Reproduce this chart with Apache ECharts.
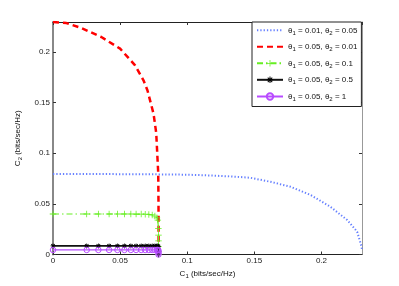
<!DOCTYPE html>
<html>
<head>
<meta charset="utf-8">
<script src="https://cdn.jsdelivr.net/npm/echarts@6/dist/echarts.min.js"></script>
<style>html,body{margin:0;padding:0;background:#fff}#c{width:399px;height:286px}</style>
</head>
<body>
<div id="c"></div>
<script>
// ---- data ----
var legendNames = [
  'θ1 = 0.01, θ2 = 0.05',
  'θ1 = 0.05, θ2 = 0.01',
  'θ1 = 0.05, θ2 = 0.1',
  'θ1 = 0.05, θ2 = 0.5',
  'θ1 = 0.05, θ2 = 1'
];
var xTicks = [0, 0.05, 0.1, 0.15, 0.2];
var yTicks = [0, 0.05, 0.1, 0.15, 0.2];

var blueX = [0, 0.02, 0.04, 0.06, 0.08, 0.1, 0.12, 0.135, 0.147, 0.162, 0.177, 0.192, 0.2067, 0.2192, 0.2266, 0.2299, 0.2302];
var blueY = [0.0794, 0.0794, 0.0794, 0.0793, 0.0791, 0.0788, 0.0779, 0.0769, 0.0758, 0.0718, 0.0669, 0.0587, 0.0471, 0.034, 0.0225, 0.0077, 0.004];

var redX = [0, 0.01, 0.021, 0.036, 0.05, 0.061, 0.0674, 0.0704, 0.0749, 0.0769, 0.0778, 0.0784, 0.0786, 0.0787];
var redY = [0.2296, 0.2285, 0.2237, 0.2148, 0.2033, 0.187, 0.172, 0.162, 0.139, 0.12, 0.096, 0.08, 0.05, 0];

var greenX = [0, 0.0251, 0.0338, 0.0418, 0.048, 0.0532, 0.058, 0.0619, 0.0657, 0.0687, 0.0714, 0.0739, 0.0759, 0.0774, 0.0781, 0.0785, 0.0786, 0.0786, 0.0786, 0.0786, 0.0786];
var greenY = [0.04, 0.04, 0.04, 0.04, 0.04, 0.04, 0.04, 0.0399, 0.0399, 0.0398, 0.0396, 0.0391, 0.038, 0.0362, 0.034, 0.0258, 0.0192, 0.0135, 0.008, 0.003, 0];

var blackX = [0, 0.0251, 0.0338, 0.0418, 0.048, 0.0532, 0.058, 0.0619, 0.0657, 0.0687, 0.0714, 0.0739, 0.0759, 0.0774, 0.0781, 0.0785, 0.0786, 0.0786, 0.0786];
var blackY = [0.0085, 0.0085, 0.0085, 0.0085, 0.0085, 0.0085, 0.0085, 0.0085, 0.0085, 0.0085, 0.0085, 0.0085, 0.0085, 0.0085, 0.0084, 0.0078, 0.006, 0.003, 0];

var magX = [0, 0.0251, 0.0338, 0.0418, 0.048, 0.0532, 0.058, 0.0619, 0.0657, 0.0687, 0.0714, 0.0739, 0.0759, 0.0774, 0.0781, 0.0785, 0.0786, 0.0786, 0.0786];
var magY = [0.0045, 0.0045, 0.0045, 0.0045, 0.0045, 0.0045, 0.0045, 0.0045, 0.0045, 0.0045, 0.0045, 0.0045, 0.0045, 0.0045, 0.0045, 0.0042, 0.003, 0.0015, 0];

function pairs(xs, ys) { return xs.map(function (x, i) { return [x, ys[i]]; }); }

var FONT = '"Liberation Sans", Arial, Helvetica, sans-serif';
var rich = {
  n: { fontSize: 8, lineHeight: 12, fontFamily: FONT, color: '#111' },
  s: { fontSize: 6, lineHeight: 6, verticalAlign: 'bottom', fontFamily: FONT, color: '#111' }
};
function toRich(str) {
  var out = '', buf = '';
  for (var i = 0; i < str.length; i++) {
    var ch = str[i];
    buf += ch;
    if ((ch === 'θ' || ch === 'C') && /\d/.test(str[i + 1] || '')) {
      out += '{n|' + buf + '}{s|' + str[i + 1] + '}';
      buf = '';
      i++;
    }
  }
  if (buf) out += '{n|' + buf + '}';
  return out;
}

var plusPath = 'path://M-0.12,-1L0.12,-1L0.12,-0.12L1,-0.12L1,0.12L0.12,0.12L0.12,1L-0.12,1L-0.12,0.12L-1,0.12L-1,-0.12L-0.12,-0.12Z';
var starPath = 'path://M-0.15,-1L0.15,-1L0.15,-0.15L1,-0.15L1,0.15L0.15,0.15L0.15,1L-0.15,1L-0.15,0.15L-1,0.15L-1,-0.15L-0.15,-0.15Z' +
  'M-0.6,-0.81L0.81,0.6L0.6,0.81L-0.81,-0.6Z' +
  'M0.81,-0.6L-0.6,0.81L-0.81,0.6L0.6,-0.81Z';

var XMAX = 0.2302, YMAX = 0.2296;

function baseX(pos, showLabel, lineColor) {
  return {
    type: 'value', position: pos, min: 0, max: XMAX, interval: 0.05,
    axisLine: { show: true, onZero: false, lineStyle: { color: lineColor, width: 1 } },
    axisTick: { show: true, inside: true, length: 3, lineStyle: { color: '#333' } },
    axisLabel: {
      show: showLabel, fontSize: 8, fontFamily: FONT, color: '#222', margin: 2,
      showMaxLabel: false,
      formatter: function (v) { return xTicks.indexOf(+v.toFixed(4)) >= 0 ? String(+v.toFixed(4)) : ''; }
    },
    splitLine: { show: false }
  };
}
function baseY(pos, showLabel, lineColor, w) {
  return {
    type: 'value', position: pos, min: 0, max: YMAX, interval: 0.05,
    axisLine: { show: true, onZero: false, lineStyle: { color: lineColor, width: w } },
    axisTick: { show: true, inside: true, length: 3, lineStyle: { color: '#333' } },
    axisLabel: {
      show: showLabel, fontSize: 8, fontFamily: FONT, color: '#222', margin: 3,
      showMaxLabel: false,
      formatter: function (v) { return yTicks.indexOf(+v.toFixed(4)) >= 0 ? String(+v.toFixed(4)) : ''; }
    },
    splitLine: { show: false }
  };
}

var xB = baseX('bottom', true, '#222');
xB.name = toRich('C1 (bits/sec/Hz)');
xB.nameLocation = 'middle';
xB.nameGap = 4.5;
xB.nameTextStyle = { rich: rich };
var xT = baseX('top', false, '#222');
var yL = baseY('left', true, '#888', 2);
yL.name = toRich('C2 (bits/sec/Hz)');
yL.nameLocation = 'middle';
yL.nameGap = 16.5;
yL.nameTextStyle = { rich: rich };
var yR = baseY('right', false, '#999', 1);

var legendData = legendNames.map(function (n, i) {
  return i < 2 ? { name: n, itemStyle: { opacity: 0 } } : { name: n };
});

var chart = echarts.init(document.getElementById('c'), null, { renderer: 'canvas' });
chart.setOption({
  animation: false,
  backgroundColor: '#fff',
  grid: { left: 53, right: 37, top: 22, bottom: 31.5, containLabel: false },
  xAxis: [xB, xT],
  yAxis: [yL, yR],
  legend: {
    orient: 'vertical', left: 252, top: 22,
    padding: [4.3, 4, 4, 4], itemGap: 6.5, itemWidth: 26, itemHeight: 8, itemTextGap: 2,
    borderColor: '#222', borderWidth: 1, backgroundColor: '#fff',
    data: legendData,
    formatter: function (name) { return toRich(name); },
    textStyle: { rich: rich }
  },
  series: [
    {
      name: legendNames[0], type: 'line', data: pairs(blueX, blueY), symbol: 'none', smooth: false,
      color: '#6680ff',
      itemStyle: { color: 'rgba(0,0,0,0)', borderWidth: 0 },
      lineStyle: { color: '#6680ff', width: 2, type: [1.3, 2] }
    },
    {
      name: legendNames[1], type: 'line', data: pairs(redX, redY), symbol: 'none',
      color: '#ff0000',
      itemStyle: { color: 'rgba(0,0,0,0)', borderWidth: 0 },
      lineStyle: { color: '#ff0000', width: 2.5, type: [6, 4] }
    },
    {
      name: legendNames[2], type: 'line', data: pairs(greenX, greenY), symbol: plusPath, symbolSize: 6.5,
      showSymbol: true, color: '#66ee22',
      itemStyle: { color: '#66ee22' },
      lineStyle: { color: '#66ee22', width: 1.2, type: [6, 3, 1.5, 3] }
    },
    {
      name: legendNames[3], type: 'line', data: pairs(blackX, blackY), symbol: starPath, symbolSize: 5,
      showSymbol: true, color: '#000',
      itemStyle: { color: '#000' },
      lineStyle: { color: '#111', width: 1.8 }
    },
    {
      name: legendNames[4], type: 'line', data: pairs(magX, magY), symbol: 'circle', symbolSize: 5.5,
      showSymbol: true, color: '#b84cff',
      itemStyle: { color: 'rgba(255,255,255,0)', borderColor: '#b84cff', borderWidth: 1 },
      lineStyle: { color: '#b84cff', width: 1.2 }
    }
  ]
});
</script>
</body>
</html>
